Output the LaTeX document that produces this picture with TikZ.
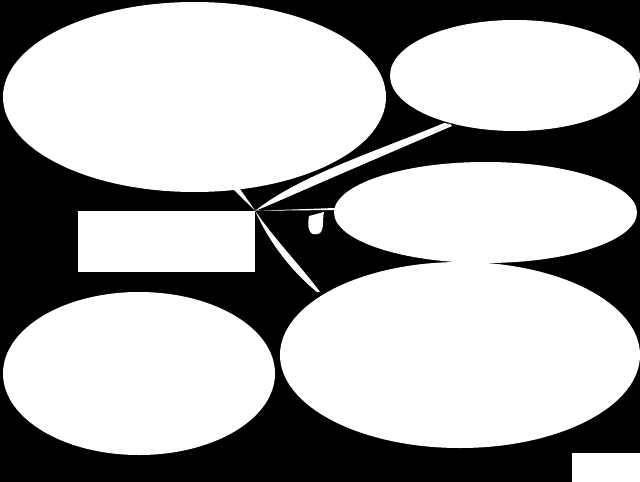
\documentclass[tikz,border=0pt]{standalone}
\usetikzlibrary{shapes.geometric}
\begin{document}
\begin{tikzpicture}[x=1pt,y=-1pt,
  bubble/.style={ellipse,fill=white,draw=none,inner sep=0pt},
  box/.style={rectangle,fill=white,draw=none,inner sep=0pt},
  link/.style={fill=white,draw=none}]
\fill[black] (0,0) rectangle (640,482);
\useasboundingbox (0,0) rectangle (640,482);
\node[bubble,minimum width=383pt,minimum height=190pt] (e1) at (194.5,97) {};
\node[bubble,minimum width=250pt,minimum height=111pt] (e2) at (515,75.5) {};
\node[bubble,minimum width=303pt,minimum height=101pt] (e3) at (485.5,212.5) {};
\node[bubble,minimum width=272pt,minimum height=163pt] (e4) at (139,373.5) {};
\node[bubble,minimum width=360pt,minimum height=186pt] (e5) at (460,355) {};
\node[box,minimum width=177pt,minimum height=61pt] (r) at (166.5,241.5) {};
\node[box,minimum width=68pt,minimum height=29pt] (r2) at (606,467.5) {};
\coordinate (hub) at (r.north east);
\coordinate (t1) at (232,188);
\coordinate (t2) at (450,124);
\coordinate (t3) at (335,208);
\coordinate (t5) at (320,292);
% connectors as tapered white wedges
\fill[link] (hub) -- (t1) -- (240,189) -- cycle;
\fill[link] (hub) .. controls (300,192) and (330,178) .. (t2) -- (444,123) .. controls (380,150) and (300,175) .. (hub);
\fill[link] (hub) -- (t2) -- (452,126) -- cycle;
\fill[link] (hub) -- (t3) -- (335,210) -- cycle;
\fill[link] (hub) .. controls (275,240) and (300,265) .. (t5) -- (317,292) .. controls (290,270) and (268,240) .. (hub);
\fill[link] (309,216) .. controls (306,232) and (312,236) .. (318,234) .. controls (325,232) and (322,220) .. (324,212) -- cycle;
\end{tikzpicture}
\end{document}
